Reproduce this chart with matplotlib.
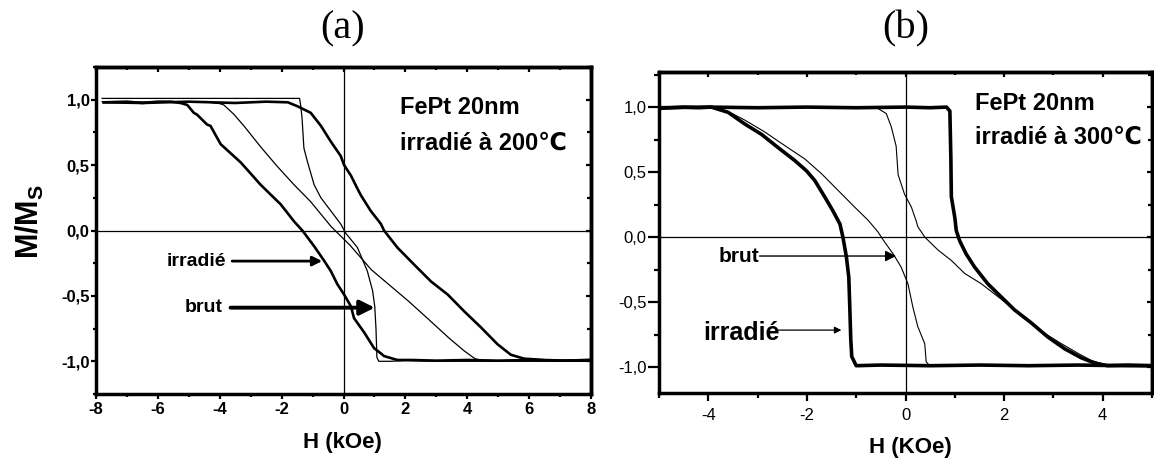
import matplotlib
matplotlib.use('Agg')
import matplotlib.pyplot as plt
from matplotlib.ticker import MultipleLocator, NullFormatter

plt.rcParams['font.family'] = ['Liberation Sans', 'DejaVu Sans']
plt.rcParams['mathtext.fontset'] = 'custom'
plt.rcParams['mathtext.rm'] = 'Liberation Sans:bold'
plt.rcParams['mathtext.bf'] = 'Liberation Sans:bold'

# ---------------- Panel (a) data : FePt 20nm irradie a 200C ----------------
a_irr_left_H = [-7.75, -7.0, -6.5, -6.0, -5.6, -5.27, -5.05, -4.84, -4.73, -4.41, -4.3, -3.97,
                -3.32, -2.68, -2.03, -1.60, -1.33, -0.95, -0.63, -0.41, -0.20, 0.02, 0.24, 0.34,
                0.67, 0.99, 1.21, 1.31, 1.74, 2.2, 3.0, 4.0, 5.0, 6.0, 7.0, 8.0]
a_irr_left_M = [0.98, 0.985, 0.975, 0.985, 0.985, 0.975, 0.96, 0.90, 0.885, 0.81, 0.80, 0.66,
                0.52, 0.35, 0.20, 0.07, 0.0, -0.12, -0.23, -0.31, -0.41, -0.49, -0.58, -0.67,
                -0.78, -0.90, -0.94, -0.96, -0.99, -0.99, -0.995, -0.99, -0.995, -0.99, -0.995, -0.99]

a_brut_left_H = [-7.8, -6.0, -5.0, -4.3, -4.2, -4.0, -3.87, -3.55, -3.22, -2.68, -2.14, -1.6,
                 -1.06, -0.4, 0.2, 0.9, 1.5, 2.1, 2.8, 3.4, 3.9, 4.25, 4.6, 6.0, 8.0]
a_brut_left_M = [0.985, 0.98, 0.985, 0.98, 0.975, 0.97, 0.96, 0.89, 0.80, 0.64, 0.49, 0.35,
                 0.22, 0.03, -0.11, -0.30, -0.42, -0.54, -0.69, -0.82, -0.92, -0.98, -1.0, -0.995, -1.0]

a_brut_right_H = [-7.8, -5.0, -3.0, -1.42, -1.38, -1.34, -1.28, -1.17, -0.95, -0.73, -0.41, -0.09,
                  0.07, 0.45, 0.77, 0.94, 1.01, 1.05, 1.08, 1.14, 1.5, 2.0, 3.0, 5.0, 8.0]
a_brut_right_M = [1.01, 1.01, 1.01, 1.01, 0.95, 0.86, 0.63, 0.53, 0.35, 0.25, 0.15, 0.05,
                  -0.02, -0.13, -0.31, -0.46, -0.58, -0.75, -0.97, -1.0, -1.0, -0.995, -1.0, -1.0, -1.0]

a_irr_right_H = [-7.75, -6.5, -5.0, -3.5, -2.5, -1.8, -1.49, -1.06, -0.73, -0.41, -0.09, 0.02,
                 0.24, 0.45, 0.56, 0.88, 1.21, 1.31, 1.74, 2.28, 2.83, 3.37, 3.91, 4.44, 4.98,
                 5.41, 5.84, 6.5, 7.2, 8.0]
a_irr_right_M = [0.98, 0.975, 0.985, 0.975, 0.985, 0.98, 0.95, 0.90, 0.80, 0.68, 0.57, 0.50,
                 0.42, 0.32, 0.27, 0.15, 0.05, 0.0, -0.13, -0.26, -0.39, -0.49, -0.62, -0.74, -0.87,
                 -0.95, -0.98, -0.99, -0.995, -0.99]

# ---------------- Panel (b) data : FePt 20nm irradie a 300C ----------------
b_irr_left_H = [-5.0, -4.5, -4.2, -3.94, -3.60, -3.26, -2.92, -2.59, -2.25, -2.01, -1.84, -1.64,
                -1.47, -1.33, -1.27, -1.20, -1.15, -1.13, -1.11, -1.09, -1.0, -0.5, 0.5, 1.5,
                2.5, 3.5, 4.5, 5.0]
b_irr_left_M = [0.99, 1.0, 0.995, 1.0, 0.96, 0.87, 0.79, 0.69, 0.59, 0.51, 0.435, 0.31,
                0.20, 0.10, 0.0, -0.15, -0.31, -0.54, -0.79, -0.92, -0.99, -0.985, -0.99, -0.985,
                -0.99, -0.985, -0.99, -0.99]

b_brut_left_H = [-5.0, -4.5, -3.94, -3.6, -3.26, -2.86, -2.59, -2.04, -1.71, -1.37, -1.03, -0.76,
                 -0.56, -0.42, -0.25, -0.09, 0.05, 0.15, 0.25, 0.39, 0.42, 0.49, 1.0, 2.0, 3.0,
                 4.0, 5.0]
b_brut_left_M = [0.99, 1.0, 1.0, 0.967, 0.90, 0.81, 0.74, 0.60, 0.49, 0.36, 0.23, 0.13,
                 0.04, -0.04, -0.13, -0.23, -0.36, -0.54, -0.69, -0.82, -0.96, -0.99, -0.985,
                 -0.99, -0.985, -0.99, -0.99]

b_brut_right_H = [-5.0, -3.0, -1.5, -0.56, -0.39, -0.29, -0.19, -0.15, -0.02, 0.12, 0.22, 0.25,
                  0.39, 0.66, 0.93, 1.20, 1.54, 1.88, 2.15, 2.48, 2.82, 3.16, 3.50, 3.77, 4.04,
                  4.5, 5.0]
b_brut_right_M = [0.995, 1.0, 0.995, 0.99, 0.95, 0.85, 0.70, 0.48, 0.33, 0.23, 0.12, 0.08,
                  0.0, -0.10, -0.18, -0.28, -0.36, -0.46, -0.54, -0.64, -0.74, -0.82, -0.895,
                  -0.95, -0.98, -0.99, -0.985]

b_irr_right_H = [-5.0, -4.0, -3.0, -2.0, -1.0, 0.0, 0.5, 0.83, 0.90, 0.92, 0.93, 1.0, 1.03,
                 1.10, 1.23, 1.40, 1.67, 1.94, 2.21, 2.55, 2.89, 3.23, 3.57, 3.84, 4.1, 4.5, 5.0]
b_irr_right_M = [0.995, 1.0, 0.995, 1.0, 0.995, 1.0, 0.995, 1.0, 0.97, 0.61, 0.31, 0.15, 0.05,
                 -0.03, -0.13, -0.23, -0.36, -0.46, -0.56, -0.66, -0.77, -0.86, -0.93, -0.97,
                 -0.99, -0.985, -0.99]

# ticks
a_xticks = [-8, -6, -4, -2, 0, 2, 4, 6, 8]
a_xticklabels = ['-8', '-6', '-4', '-2', '0', '2', '4', '6', '8']
b_xticks = [-4, -2, 0, 2, 4]
b_xticklabels = ['-4', '-2', '0', '2', '4']
yticks = [-1.0, -0.5, 0.0, 0.5, 1.0]
yticklabels = ['-1,0', '-0,5', '0,0', '0,5', '1,0']

W, Hpx = 1154, 461
fig = plt.figure(figsize=(W / 100, Hpx / 100), dpi=100)
axA = fig.add_axes([96 / W, 1 - 394 / Hpx, 495 / W, 327 / Hpx])
axB = fig.add_axes([659 / W, 1 - 393 / Hpx, 493 / W, 321 / Hpx])

# ---- panel a curves
thickA, thinA = 1.9, 0.9
axA.plot(a_irr_left_H, a_irr_left_M, color='black', lw=thickA)
axA.plot(a_irr_right_H, a_irr_right_M, color='black', lw=thickA)
axA.plot(a_brut_left_H, a_brut_left_M, color='black', lw=thinA)
axA.plot(a_brut_right_H, a_brut_right_M, color='black', lw=thinA)
axA.axvline(0, color='black', lw=0.9)
axA.axhline(0, color='black', lw=0.9)
axA.set_xlim(-8, 8)
axA.set_ylim(-1.25, 1.25)

# ---- panel b curves
thickB, thinB = 2.6, 0.8
axB.plot(b_irr_left_H, b_irr_left_M, color='black', lw=thickB)
axB.plot(b_irr_right_H, b_irr_right_M, color='black', lw=thickB)
axB.plot(b_brut_left_H, b_brut_left_M, color='black', lw=thinB)
axB.plot(b_brut_right_H, b_brut_right_M, color='black', lw=thinB)
axB.axvline(0, color='black', lw=0.9)
axB.axhline(0, color='black', lw=0.9)
axB.set_xlim(-5, 5)
axB.set_ylim(-1.2, 1.27)


def style_axes(ax, xticks, xlabels, bold, xmaj_len, xmin_len, ymaj_len, ymin_len, xpad, ypad, tsize):
    for s in ax.spines.values():
        s.set_linewidth(2.5)
    weight = 'bold' if bold else 'normal'
    ax.set_xticks(xticks)
    ax.set_xticklabels(xlabels, fontsize=tsize, fontweight=weight)
    ax.set_yticks(yticks)
    ax.set_yticklabels(yticklabels, fontsize=tsize, fontweight=weight)
    ax.xaxis.set_minor_locator(MultipleLocator(1))
    ax.yaxis.set_minor_locator(MultipleLocator(0.25))
    ax.tick_params(axis='x', which='major', direction='out', length=xmaj_len, width=1.6, pad=xpad,
                   top=False)
    ax.tick_params(axis='x', which='minor', direction='out', length=xmin_len, width=1.6, top=False)
    ax.tick_params(axis='y', which='major', direction='out', length=ymaj_len, width=1.6, pad=ypad,
                   right=False)
    ax.tick_params(axis='y', which='minor', direction='out', length=ymin_len, width=1.6, right=False)
    # top & right inward ticks
    sx = ax.secondary_xaxis('top')
    sx.set_xticks(xticks)
    sx.xaxis.set_minor_locator(MultipleLocator(1))
    sx.xaxis.set_major_formatter(NullFormatter())
    sx.tick_params(axis='x', which='major', direction='in', length=3.5, width=1.6)
    sx.tick_params(axis='x', which='minor', direction='in', length=2.5, width=1.6)
    sx.spines['top'].set_linewidth(2.5)
    sy = ax.secondary_yaxis('right')
    sy.set_yticks(yticks)
    sy.yaxis.set_minor_locator(MultipleLocator(0.25))
    sy.yaxis.set_major_formatter(NullFormatter())
    sy.tick_params(axis='y', which='major', direction='in', length=3.5, width=1.6)
    sy.tick_params(axis='y', which='minor', direction='in', length=3.0, width=1.6)
    sy.spines['right'].set_linewidth(2.5)


style_axes(axA, a_xticks, a_xticklabels, True, 3.6, 2.2, 3.6, 2.2, 2.0, 1.0, 12)
style_axes(axB, b_xticks, b_xticklabels, False, 6.0, 3.6, 8.0, 3.5, 5.0, 1.0, 12)

# ---- annotations panel a
axA.text(0.614, 0.875, 'FePt 20nm', transform=axA.transAxes, fontsize=17, fontweight='bold',
         ha='left', va='center')
axA.text(0.614, 0.768, 'irradié à 200℃', transform=axA.transAxes, fontsize=17, fontweight='bold',
         ha='left', va='center', family=['Liberation Sans', 'DejaVu Sans'])
axA.annotate('', xy=(-0.69, -0.234), xytext=(-3.6, -0.234),
             arrowprops=dict(arrowstyle='-|>', lw=2.0, color='black', mutation_scale=14,
                             shrinkA=0, shrinkB=0))
axA.text(-3.8, -0.234, 'irradié', fontsize=14, fontweight='bold', ha='right', va='center')
axA.annotate('', xy=(1.01, -0.59), xytext=(-3.65, -0.59),
             arrowprops=dict(arrowstyle='-|>', lw=2.8, color='black', mutation_scale=22,
                             shrinkA=0, shrinkB=0))
axA.text(-3.9, -0.59, 'brut', fontsize=14, fontweight='bold', ha='right', va='center')

# ---- annotations panel b
axB.text(0.641, 0.903, 'FePt 20nm', transform=axB.transAxes, fontsize=17, fontweight='bold',
         ha='left', va='center')
axB.text(0.641, 0.797, 'irradié à 300℃', transform=axB.transAxes, fontsize=17, fontweight='bold',
         ha='left', va='center', family=['Liberation Sans', 'DejaVu Sans'])
axB.annotate('', xy=(-0.19, -0.146), xytext=(-2.96, -0.146),
             arrowprops=dict(arrowstyle='-|>', lw=1.0, color='black', mutation_scale=16,
                             shrinkA=0, shrinkB=0))
axB.text(-2.96, -0.146, 'brut', fontsize=15, fontweight='bold', ha='right', va='center')
axB.annotate('', xy=(-1.30, -0.716), xytext=(-2.62, -0.716),
             arrowprops=dict(arrowstyle='-|>', lw=0.9, color='black', mutation_scale=10,
                             shrinkA=0, shrinkB=0))
axB.text(-2.55, -0.74, 'irradié', fontsize=18, fontweight='bold', ha='right', va='center')

# ---- labels and titles
fig.text(30 / W, 1 - 222 / Hpx, r'$\mathbf{M/M_S}$', rotation=90, fontsize=22,
         ha='center', va='center')
fig.text(342 / W, 1 - 442 / Hpx, 'H (kOe)', fontsize=16, fontweight='bold', ha='center', va='center')
fig.text(910 / W, 1 - 447 / Hpx, 'H (KOe)', fontsize=16, fontweight='bold', ha='center', va='center')
fig.text(343 / W, 1 - 29 / Hpx, '(a)', fontsize=29, family='Liberation Serif', ha='center', va='center')
fig.text(906 / W, 1 - 29 / Hpx, '(b)', fontsize=29, family='Liberation Serif', ha='center', va='center')

fig.savefig('out.png', dpi=100)
